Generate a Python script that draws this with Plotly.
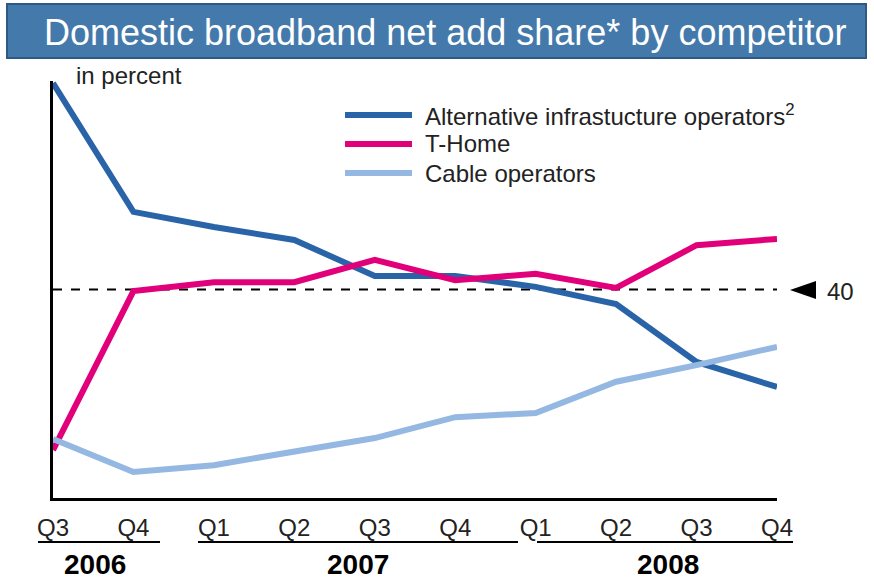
import plotly.graph_objects as go

# quarters Q3 2006 .. Q4 2008
quarters = ["Q3", "Q4", "Q1", "Q2", "Q3", "Q4", "Q1", "Q2", "Q3", "Q4"]
years = ["2006", "2007", "2008"]
alt_ops = [79.6, 54.9, 52.0, 49.5, 42.6, 42.6, 40.5, 37.2, 26.1, 21.3]
t_home = [9.2, 39.7, 41.4, 41.4, 45.7, 41.8, 43.0, 40.3, 48.5, 49.7]
cable = [11.3, 5.0, 6.3, 9.0, 11.5, 15.5, 16.3, 22.3, 25.5, 29.0]
ref_level = 40

W, H = 874, 581
L, R, T, B = 53, 97, 81, 83
PW, PH = W - L - R, H - T - B

def px(x):
    return (x - L) / PW

def py(y):
    return (H - B - y) / PH

FONT = "Liberation Sans Narrow, Liberation Sans, Arial, sans-serif"
x = list(range(len(quarters)))

series = [
    ("Alternative infrastucture operators<sup>2</sup>", alt_ops, "#2a64a8"),
    ("T-Home", t_home, "#e2007a"),
    ("Cable operators", cable, "#94b8e2"),
]

fig = go.Figure()
for name, vals, col in series:
    fig.add_trace(go.Scatter(x=x, y=vals, mode="lines", name=name,
                             line=dict(color=col, width=6), showlegend=False,
                             cliponaxis=False))

shapes = []
# title bar
shapes.append(dict(type="rect", xref="paper", yref="paper",
                   x0=px(7), x1=px(866), y0=py(58), y1=py(4),
                   fillcolor="#4479ab", line=dict(color="#2d5a85", width=2), layer="below"))
# 40% reference line and marker
shapes.append(dict(type="line", xref="x", yref="y", x0=0, x1=len(quarters) - 1,
                   y0=ref_level, y1=ref_level, line=dict(color="black", width=2, dash="dash"),
                   layer="below"))
shapes.append(dict(type="path", xref="paper", yref="paper",
                   path=f"M {px(790)},{py(290)} L {px(816)},{py(281)} L {px(816)},{py(299)} Z",
                   fillcolor="black", line=dict(width=0)))
# legend lines
for (name, vals, col), ly in zip(series, [115, 144, 173]):
    shapes.append(dict(type="line", xref="paper", yref="paper",
                       x0=px(345), x1=px(412), y0=py(ly), y1=py(ly),
                       line=dict(color=col, width=6)))
# year group underlines
for a, b in [(38, 160), (198, 518), (537, 793)]:
    shapes.append(dict(type="line", xref="paper", yref="paper",
                       x0=px(a), x1=px(b), y0=py(542), y1=py(542),
                       line=dict(color="black", width=2)))

annotations = [
    dict(text="Domestic broadband net add share* by competitor", xref="paper", yref="paper",
         x=px(445), y=py(32), showarrow=False, font=dict(family=FONT, size=36, color="white"),
         xanchor="center", yanchor="middle"),
    dict(text="in percent", xref="paper", yref="paper", x=px(74), y=py(75),
         showarrow=False, font=dict(family=FONT, size=24, color="#222"),
         xanchor="left", yanchor="middle"),
    dict(text="40", xref="paper", yref="paper", x=px(825), y=py(291),
         showarrow=False, font=dict(family=FONT, size=24, color="#222"),
         xanchor="left", yanchor="middle"),
]
for (name, vals, col), ly in zip(series, [115, 144, 173]):
    annotations.append(dict(text=name, xref="paper", yref="paper", x=px(423), y=py(ly),
                            showarrow=False, font=dict(family=FONT, size=24, color="#222"),
                            xanchor="left", yanchor="middle"))
for yr, cx in zip(years, [95, 358, 668]):
    annotations.append(dict(text=f"<b>{yr}</b>", xref="paper", yref="paper", x=px(cx), y=py(564),
                            showarrow=False, font=dict(family=FONT, size=28, color="black"),
                            xanchor="center", yanchor="middle"))

fig.update_layout(
    width=W, height=H, margin=dict(l=L, r=R, t=T, b=B),
    paper_bgcolor="white", plot_bgcolor="white",
    shapes=shapes, annotations=annotations, showlegend=False,
)
fig.update_xaxes(range=[0, len(quarters) - 1], tickvals=x, ticktext=quarters,
                 showgrid=False, zeroline=False, showline=True, linecolor="black", linewidth=3,
                 ticks="", ticklabelstandoff=6,
                 tickfont=dict(family=FONT, size=24, color="#222"))
fig.update_yaxes(range=[0, 80], showticklabels=False, showgrid=False, zeroline=False,
                 showline=True, linecolor="black", linewidth=3, ticks="")

fig.write_html("out.html", config={"displayModeBar": False},
               post_script="document.body.style.margin='0';")
